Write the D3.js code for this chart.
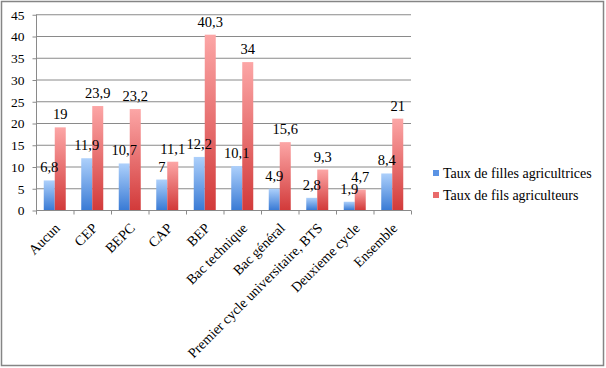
<!DOCTYPE html>
<html>
<head>
<meta charset="utf-8">
<script src="https://cdn.jsdelivr.net/npm/d3@7"></script>
<style>
  body { margin: 0; background: #fff; }
</style>
</head>
<body>
<svg id="chart" width="606" height="368" font-family="'Liberation Serif', 'Times New Roman', 'DejaVu Serif', serif"></svg>
<script>
// niveau de diplome vs taux d'agriculteurs
const categories = ["Aucun", "CEP", "BEPC", "CAP", "BEP", "Bac technique", "Bac général",
    "Premier cycle universitaire, BTS", "Deuxieme cycle", "Ensemble"];
const filles = [6.8, 11.9, 10.7, 7, 12.2, 10.1, 4.9, 2.8, 1.9, 8.4];
const fils = [19, 23.9, 23.2, 11.1, 40.3, 34, 15.6, 9.3, 4.7, 21];
const labelsFilles = ["6,8", "11,9", "10,7", "7", "12,2", "10,1", "4,9", "2,8", "1,9", "8,4"];
const labelsFils = ["19", "23,9", "23,2", "11,1", "40,3", "34", "15,6", "9,3", "4,7", "21"];
const yTicks = [0, 5, 10, 15, 20, 25, 30, 35, 40, 45];
const seriesNames = ["Taux de filles agricultrices", "Taux de fils agriculteurs"];

const serif = "'Liberation Serif', 'Times New Roman', 'DejaVu Serif', serif";
const svg = d3.select("#chart");

// frame
svg.append("rect")
    .attr("x", 1.5).attr("y", 1.5)
    .attr("width", 602).attr("height", 364)
    .attr("fill", "none")
    .attr("stroke", "#858585")
    .attr("stroke-width", 1.5);

const plotLeft = 36, plotRight = 411, plotTop = 14.25, plotBottom = 210;

const x = d3.scaleBand().domain(categories).range([plotLeft, plotRight]).paddingInner(0).paddingOuter(0);
const y = d3.scaleLinear().domain([0, 45]).range([plotBottom, plotTop]);

// gradients
const defs = svg.append("defs");
function grad(id, c1, c2) {
    const g = defs.append("linearGradient").attr("id", id)
        .attr("x1", 0).attr("y1", 0).attr("x2", 0).attr("y2", 1);
    g.append("stop").attr("offset", "0%").attr("stop-color", c1);
    g.append("stop").attr("offset", "100%").attr("stop-color", c2);
}
grad("gBlue", "#add0fb", "#3a7bd5");
grad("gRed", "#fca6a6", "#d23a3a");

// gridlines
svg.append("g")
    .selectAll("line")
    .data(yTicks.filter(d => d > 0))
    .join("line")
    .attr("x1", plotLeft).attr("x2", plotRight)
    .attr("y1", d => y(d) + 0.5).attr("y2", d => y(d) + 0.5)
    .attr("stroke", "#8a8a8a")
    .attr("stroke-width", 1);

// y axis
const yAxis = svg.append("g")
    .attr("transform", `translate(${plotLeft + 0.5},0.5)`)
    .call(d3.axisLeft(y).tickValues(yTicks).tickSize(4).tickPadding(8));
yAxis.attr("font-family", null).attr("font-size", null);
yAxis.selectAll("line, path").attr("stroke", "#8a8a8a");
yAxis.select(".domain").attr("d", `M0,${y(45)}V${plotBottom}`);
yAxis.selectAll("text")
    .style("font-size", "13.5px")
    .style("font-family", serif)
    .attr("fill", "#000");

// bars
const bw = 11;
const groups = svg.append("g");
function drawBars(vals, offset, fill) {
    groups.append("g")
        .selectAll("rect")
        .data(vals)
        .join("rect")
        .attr("x", (d, i) => x(categories[i]) + x.bandwidth() / 2 + offset)
        .attr("y", d => y(d))
        .attr("width", bw)
        .attr("height", d => plotBottom - y(d))
        .attr("fill", fill);
}
drawBars(filles, -bw, "url(#gBlue)");
drawBars(fils, 0, "url(#gRed)");

// x axis
const xAxis = svg.append("g")
    .attr("transform", `translate(0,${plotBottom + 0.5})`);
xAxis.append("line")
    .attr("x1", plotLeft).attr("x2", plotRight)
    .attr("stroke", "#8a8a8a");
xAxis.selectAll(".tk")
    .data(d3.range(categories.length + 1))
    .join("line")
    .attr("class", "tk")
    .attr("x1", i => plotLeft + i * x.step() + 0.5)
    .attr("x2", i => plotLeft + i * x.step() + 0.5)
    .attr("y1", 0).attr("y2", 4)
    .attr("stroke", "#8a8a8a");

svg.append("g")
    .selectAll("text")
    .data(categories)
    .join("text")
    .attr("transform", d => `translate(${x(d) + x.bandwidth() / 2 + 6},${plotBottom + 19}) rotate(-45)`)
    .attr("text-anchor", "end")
    .style("font-family", serif)
    .style("font-size", "14px")
    .text(d => d);

// value labels
function drawLabels(vals, labels, offset) {
    svg.append("g")
        .selectAll("text")
        .data(vals)
        .join("text")
        .attr("x", (d, i) => x(categories[i]) + x.bandwidth() / 2 + offset)
        .attr("y", d => y(d) - 8)
        .attr("text-anchor", "middle")
        .style("font-family", serif)
        .style("font-size", "14.5px")
        .text((d, i) => labels[i]);
}
drawLabels(filles, labelsFilles, -bw / 2);
drawLabels(fils, labelsFils, bw / 2);

// legend
const legend = svg.append("g").attr("transform", "translate(433,170)");
const legendFills = ["#5a93e4", "#e96a6a"];
seriesNames.forEach((name, i) => {
    const g = legend.append("g").attr("transform", `translate(0,${i * 22})`);
    g.append("rect").attr("width", 6).attr("height", 6).attr("fill", legendFills[i]);
    g.append("text").attr("x", 10).attr("y", 7.5)
        .style("font-family", serif)
        .style("font-size", "14px").text(name);
});
</script>
</body>
</html>
